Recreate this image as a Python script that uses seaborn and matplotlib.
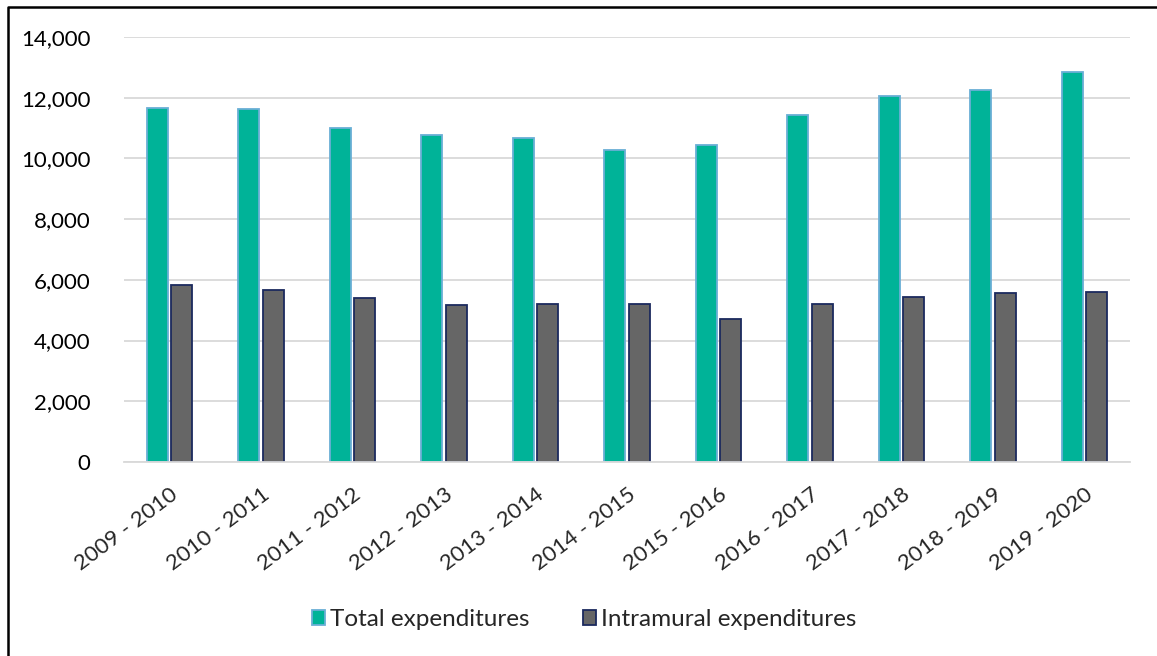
import pandas as pd
import seaborn as sns
import numpy as np
import matplotlib.pyplot as plt
from matplotlib.lines import Line2D
from matplotlib.patches import Patch
from matplotlib.ticker import FuncFormatter, FixedLocator

# fiscal years and spending
years = ["2009 - 2010", "2010 - 2011", "2011 - 2012", "2012 - 2013", "2013 - 2014", "2014 - 2015",
         "2015 - 2016", "2016 - 2017", "2017 - 2018", "2018 - 2019", "2019 - 2020"]
total_exp = [11650, 11630, 11000, 10770, 10670, 10280, 10440, 11430, 12060, 12250, 12850]
intramural_exp = [5830, 5660, 5410, 5170, 5200, 5200, 4710, 5200, 5420, 5560, 5610]

series_names = ["Total expenditures", "Intramural expenditures"]
fills = ["#00B398", "#666666"]
edges = ["#6AAFD6", "#1B2A5E"]

df = pd.DataFrame({"year": years * 2,
                   "value": total_exp + intramural_exp,
                   "series": [series_names[0]] * len(years) + [series_names[1]] * len(years)})

sns.set_style("white")
plt.rcParams['font.family'] = ['Lato', 'DejaVu Sans']

fig = plt.figure(figsize=(11.57, 6.56), dpi=100)
ax = fig.add_axes([0.107, 0.2957, 0.870, 0.6479])

sns.barplot(data=df, x="year", y="value", hue="series", palette=fills, saturation=1,
            width=0.54, gap=0.15, ax=ax, legend=False)

# colour the bar edges per series
n = len(years)
for i, bar in enumerate(ax.patches[:2 * n]):
    bar.set_edgecolor(edges[i // n])
    bar.set_linewidth(1.3)

ax.set_ylim(0, 14000)
ax.set_xlim(-0.5, n - 0.5)
ax.set_yticks(np.arange(0, 14001, 2000))
ax.yaxis.set_major_formatter(FuncFormatter(lambda v, p: f"{int(v):,}"))
ax.yaxis.grid(True, color="#D9D9D9", linewidth=1.3)
ax.set_axisbelow(True)
ax.set_xlabel("")
ax.set_ylabel("")

for s in ["top", "right", "left"]:
    ax.spines[s].set_visible(False)
ax.spines["bottom"].set_color("#D9D9D9")
ax.spines["bottom"].set_linewidth(1.3)

ax.tick_params(axis="y", length=0, labelsize=16, pad=24, colors="black")
ax.tick_params(axis="x", which="major", length=0, labelsize=16, pad=16)
ax.xaxis.set_minor_locator(FixedLocator(np.arange(-0.5, n, 1.0)))
ax.tick_params(axis="x", which="minor", direction="inout", length=16, width=1.3, color="#D9D9D9")
plt.setp(ax.get_xticklabels(), rotation=37, ha="right", rotation_mode="anchor")

handles = [Patch(facecolor=fills[k], edgecolor=edges[k], linewidth=1.3, label=series_names[k]) for k in range(2)]
fig.legend(handles=handles, loc="center", bbox_to_anchor=(0.505, 0.055), ncol=2, frameon=False,
           fontsize=17.5, handlelength=0.55, handleheight=0.55, handletextpad=0.2, columnspacing=2.2)

# outer frame: only left and top edges are visible
fig.lines.append(Line2D([0.007, 0.007, 1.0], [0.0, 0.989, 0.989], transform=fig.transFigure,
                        color="black", linewidth=1.8))

fig.savefig("out.png", dpi=100)
